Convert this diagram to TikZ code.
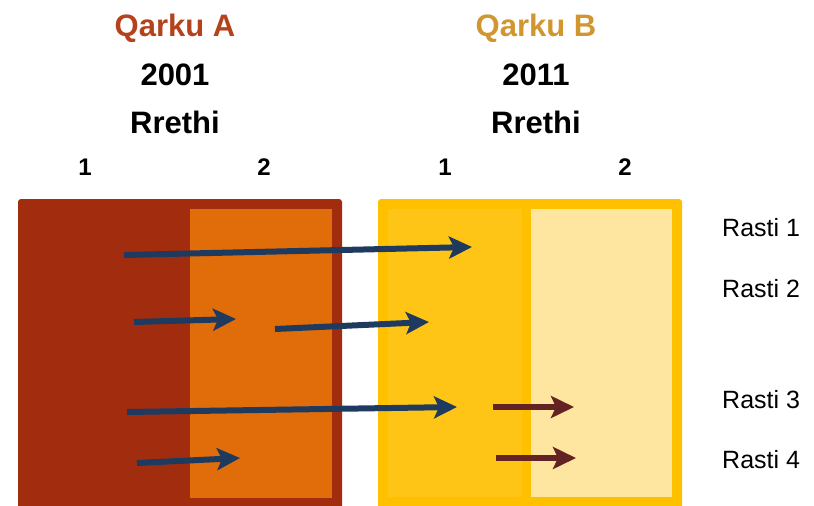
\documentclass[tikz,border=0pt]{standalone}
\usepackage{fontspec}
\setmainfont{Liberation Sans}
\usetikzlibrary{arrows.meta, positioning}
\definecolor{qarkuarust}{RGB}{162,45,14}
\definecolor{qarkuaorange}{RGB}{225,108,10}
\definecolor{qarkuatitle}{RGB}{180,66,28}
\definecolor{qarkubgold}{RGB}{255,192,0}
\definecolor{qarkubyellow}{RGB}{254,197,22}
\definecolor{qarkublight}{RGB}{255,230,160}
\definecolor{qarkubtitle}{RGB}{208,150,48}
\definecolor{flowblue}{RGB}{31,58,95}
\definecolor{flowbrown}{RGB}{99,35,35}

\begin{document}
\begin{tikzpicture}[x=1pt, y=-1pt,
		texts/.style = {text=black, inner sep=0pt, font=\fontsize{25}{30}\selectfont},
		headtexts/.style = {texts, font=\bfseries\fontsize{31}{36}\selectfont},
		coltexts/.style = {texts, font=\bfseries\fontsize{24}{28}\selectfont},
		rastitexts/.style = {texts, anchor=base west},
		boxfill/.style = {rounded corners=3pt},
		moveline/.style = {draw=flowblue, line width=6pt, -{Stealth[length=23pt, width=22pt, inset=5pt]}},
		stayline/.style = {moveline, draw=flowbrown}
		]
		\useasboundingbox (0,0) rectangle (814,506);
		
		\fill[boxfill, qarkuarust] (18,199) rectangle (342,512);
		\fill[qarkuaorange] (190,209) rectangle (332,498);
		\fill[boxfill, qarkubgold] (378,199) rectangle (682,512);
		\fill[qarkubyellow] (388,209) rectangle (522,497);
		\fill[qarkublight] (531,209) rectangle (672,497);
		
		\node [headtexts, text=qarkuatitle, anchor=base] (qarkuA) at (175,36) {Qarku A};
		\node [headtexts, below=49pt of qarkuA.base, anchor=base] (yearA) {2001};
		\node [headtexts, below=48pt of yearA.base, anchor=base] (rrethiA) {Rrethi};
		\node [coltexts, below left=42pt and 90pt of rrethiA.base, anchor=base] (colA1) {1};
		\node [coltexts, below right=42pt and 89pt of rrethiA.base, anchor=base] (colA2) {2};
		
		\node [headtexts, text=qarkubtitle, anchor=base] (qarkuB) at (536,36) {Qarku B};
		\node [headtexts, below=49pt of qarkuB.base, anchor=base] (yearB) {2011};
		\node [headtexts, below=48pt of yearB.base, anchor=base] (rrethiB) {Rrethi};
		\node [coltexts, below left=42pt and 91pt of rrethiB.base, anchor=base] (colB1) {1};
		\node [coltexts, below right=42pt and 89pt of rrethiB.base, anchor=base] (colB2) {2};
		
		\node [rastitexts] (rasti1) at (722,236) {Rasti 1};
		\node [rastitexts] (rasti2) at (722,297) {Rasti 2};
		\node [rastitexts] (rasti3) at (722,408) {Rasti 3};
		\node [rastitexts] (rasti4) at (722,468) {Rasti 4};
		
		\coordinate (r1from) at (124,255);
		\coordinate (r1to) at (472,247);
		\coordinate (r2from) at (134,322);
		\coordinate (r2to) at (236,319);
		\coordinate (r2bfrom) at (275,329);
		\coordinate (r2bto) at (429,322);
		\coordinate (r3from) at (127,412);
		\coordinate (r3to) at (457,407);
		\coordinate (r3bfrom) at (493,407);
		\coordinate (r3bto) at (574,407);
		\coordinate (r4from) at (137,463);
		\coordinate (r4to) at (240,458);
		\coordinate (r4bfrom) at (496,458);
		\coordinate (r4bto) at (576,458);
		
		\draw[moveline] (r1from) -- (r1to);
		\draw[moveline] (r2from) -- (r2to);
		\draw[moveline] (r2bfrom) -- (r2bto);
		\draw[moveline] (r3from) -- (r3to);
		\draw[stayline] (r3bfrom) -- (r3bto);
		\draw[moveline] (r4from) -- (r4to);
		\draw[stayline] (r4bfrom) -- (r4bto);
		
\end{tikzpicture}
\end{document}
